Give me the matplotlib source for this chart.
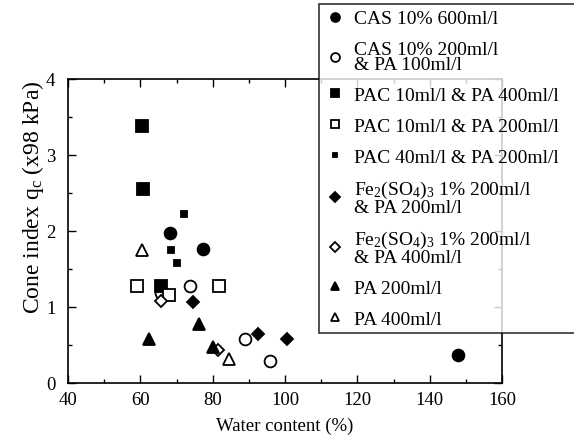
import matplotlib
matplotlib.use("Agg")
import matplotlib.pyplot as plt
from matplotlib.ticker import MultipleLocator

plt.rcParams['font.family'] = ['Liberation Serif', 'DejaVu Serif']
plt.rcParams['mathtext.fontset'] = 'custom'
plt.rcParams['mathtext.rm'] = 'Liberation Serif'
plt.rcParams['mathtext.it'] = 'Liberation Serif:italic'

# data: (water content %, cone index)
cas600_x = [68.1, 77.4, 147.8]
cas600_y = [1.98, 1.76, 0.37]
cas200_x = [65.7, 73.7, 89.0, 95.8]
cas200_y = [1.18, 1.28, 0.58, 0.29]
pac10_400_x = [60.5, 60.7, 65.6]
pac10_400_y = [3.38, 2.55, 1.28]
pac10_200_x = [59.1, 67.9, 81.8]
pac10_200_y = [1.28, 1.16, 1.28]
pac40_x = [72.2, 68.6, 70.0]
pac40_y = [2.23, 1.75, 1.58]
fe200_x = [74.5, 92.6, 100.6]
fe200_y = [1.06, 0.65, 0.58]
fe400_x = [65.7, 81.6]
fe400_y = [1.08, 0.44]
pa200_x = [62.3, 76.2, 80.1]
pa200_y = [0.58, 0.77, 0.48]
pa400_x = [60.5, 84.5]
pa400_y = [1.75, 0.31]

labels = ["CAS 10% 600ml/l",
          "CAS 10% 200ml/l\n& PA 100ml/l",
          "PAC 10ml/l & PA 400ml/l",
          "PAC 10ml/l & PA 200ml/l",
          "PAC 40ml/l & PA 200ml/l",
          "Fe$_2$(SO$_4$)$_3$ 1% 200ml/l\n& PA 200ml/l",
          "Fe$_2$(SO$_4$)$_3$ 1% 200ml/l\n& PA 400ml/l",
          "PA 200ml/l",
          "PA 400ml/l"]

fig = plt.figure(figsize=(5.74, 4.39), dpi=100)
ax = fig.add_axes([68 / 574, 1 - 384 / 439, 434 / 574, 304 / 439])

series = [
    (cas600_x, cas600_y, 'o', 'k', 8.5),
    (cas200_x, cas200_y, 'o', 'w', 8.5),
    (pac10_400_x, pac10_400_y, 's', 'k', 8),
    (pac10_200_x, pac10_200_y, 's', 'w', 8),
    (pac40_x, pac40_y, 's', 'k', 4),
    (fe200_x, fe200_y, 'D', 'k', 6.5),
    (fe400_x, fe400_y, 'D', 'w', 6.5),
    (pa200_x, pa200_y, '^', 'k', 8),
    (pa400_x, pa400_y, '^', 'w', 8),
]
handles = []
for (x, y, m, fc, ms), lab in zip(series, labels):
    h, = ax.plot(x, y, linestyle='none', marker=m, markersize=ms,
                 markerfacecolor=fc, markeredgecolor='k', markeredgewidth=1.3,
                 label=lab)
    handles.append(h)

ax.set_xlim(40, 160)
ax.set_ylim(0, 4)
ax.xaxis.set_major_locator(MultipleLocator(20))
ax.xaxis.set_minor_locator(MultipleLocator(10))
ax.yaxis.set_major_locator(MultipleLocator(1))
ax.yaxis.set_minor_locator(MultipleLocator(0.5))
ax.tick_params(which='both', direction='in', top=True, right=True,
               labelsize=13.5, width=1)
ax.tick_params(axis='x', pad=6)
ax.tick_params(axis='y', pad=9)
ax.tick_params(which='major', length=6)
ax.tick_params(which='minor', length=3)
for s in ax.spines.values():
    s.set_linewidth(1.2)

ax.set_xlabel("Water content (%)", fontsize=13.5, labelpad=6)
ax.set_ylabel("Cone index q$_\\mathrm{c}$ (x98 kPa)", fontsize=17)
ax.yaxis.set_label_coords(-0.05, 0.615)

leg = fig.legend(handles, labels, loc='upper left',
                 bbox_to_anchor=(319 / 574, 0, 0.6, 1 - 5 / 439), mode='expand',
                 borderaxespad=0, fontsize=14, frameon=True, fancybox=False,
                 edgecolor='k', markerscale=0.75, handletextpad=0.5,
                 handlelength=1.0, labelspacing=0.68, borderpad=0.3)
leg.get_frame().set_linewidth(1.2)
for t in leg.get_texts():
    t.set_linespacing(0.9)

fig.savefig("out.png", dpi=100)
